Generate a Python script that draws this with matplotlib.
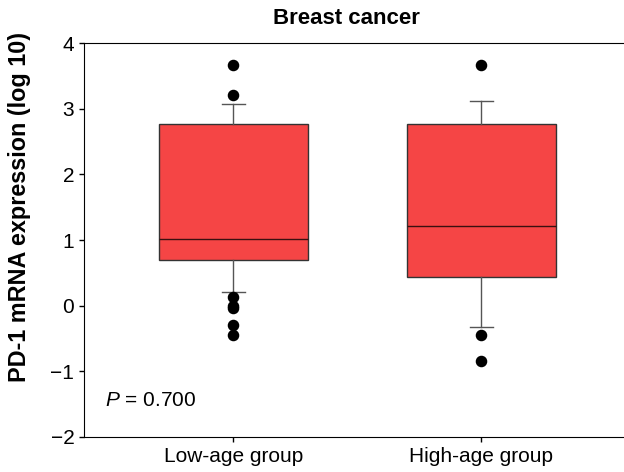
import matplotlib.pyplot as plt

plt.rcParams['font.family'] = ['Liberation Sans', 'DejaVu Sans']
plt.rcParams['mathtext.fontset'] = 'custom'
plt.rcParams['mathtext.it'] = 'Liberation Sans:italic'
plt.rcParams['mathtext.rm'] = 'Liberation Sans'

groups = ['Low-age group', 'High-age group']
q1 = [0.69, 0.44]
med = [1.01, 1.22]
q3 = [2.77, 2.77]
whislo = [0.21, -0.33]
whishi = [3.07, 3.11]
fliers = [[3.66, 3.21, 0.13, 0.0, -0.04, -0.29, -0.45],
          [3.66, -0.45, -0.85]]

stats = []
for i in range(len(groups)):
    stats.append(dict(label=groups[i], q1=q1[i], med=med[i], q3=q3[i],
                      whislo=whislo[i], whishi=whishi[i], fliers=fliers[i]))

fig = plt.figure(figsize=(6.24, 4.72), dpi=100)
ax = fig.add_axes([84 / 624, 35 / 472, 1 - 84 / 624 + 0.01, 394 / 472])

ax.bxp(stats, positions=[1, 2], widths=0.6, capwidths=0.093, patch_artist=True,
       boxprops=dict(facecolor='#F54545', edgecolor='#333333', linewidth=1.0),
       medianprops=dict(color='#3a1010', linewidth=1.0),
       whiskerprops=dict(color='#555555', linewidth=1.0),
       capprops=dict(color='#555555', linewidth=1.0),
       flierprops=dict(marker='o', markerfacecolor='black', markeredgecolor='black',
                       markersize=7.3))

ax.set_xlim(0.398, 2.6)
ax.set_ylim(-2, 4)
ax.set_yticks(range(-2, 5))
ax.set_xticks([1, 2])
ax.set_xticklabels(groups)
ax.tick_params(axis='both', labelsize=15, length=3.5, width=1, direction='out')
ax.spines['right'].set_visible(False)

ax.text(0.482, -1.53, '$P$ = 0.700', fontsize=15, va='baseline', ha='left')

fig.text(346 / 624, 0.96, 'Breast cancer', fontsize=16, fontweight='bold',
         ha='center', va='center')
fig.text(20 / 624, 0.5625, 'PD-1 mRNA expression (log 10)', fontsize=16.8,
         fontweight='bold', rotation=90, ha='center', va='center')

fig.savefig('out.png', dpi=100)
